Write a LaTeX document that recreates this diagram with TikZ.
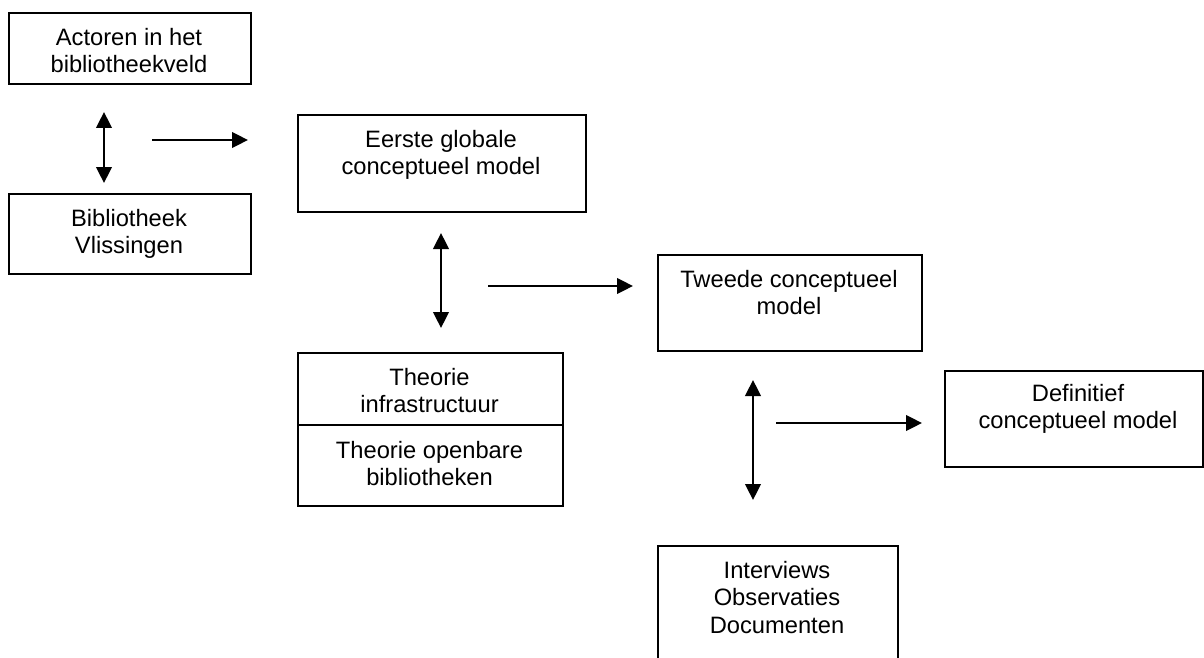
\documentclass[tikz,border=0pt]{standalone}
\usepackage{fontspec}
\setmainfont{Liberation Sans}
\usetikzlibrary{arrows.meta,calc}
\begin{document}
\begin{tikzpicture}[x=1pt,y=-1pt,
  box/.style={draw, line width=1.7pt, inner sep=0pt, anchor=north west},
  txt/.style={font=\fontsize{23.7}{27.5}\selectfont, align=center, inner sep=0pt, anchor=north},
  dbl/.style={{Triangle[length=16pt,width=15.5pt]}-{Triangle[length=16pt,width=15.5pt]}, line width=2.5pt},
  sgl/.style={-{Triangle[length=16pt,width=15.5pt]}, line width=2.5pt}]
\useasboundingbox (0,0) rectangle (1204,658);
\clip (0,0) rectangle (1204,658);
\fill[white] (0,0) rectangle (1204,658);

% boxes
\node[box, minimum width=242pt, minimum height=71pt] (b1) at (8,12) {};
\node[box, minimum width=242pt, minimum height=80pt] (b2) at (8,193) {};
\node[box, minimum width=288pt, minimum height=97pt] (b3) at (297,114) {};
\node[box, minimum width=265pt, minimum height=72pt] (b4) at (297,352) {};
\node[box, minimum width=265pt, minimum height=81pt] (b5) at (297,424) {};
\node[box, minimum width=264pt, minimum height=96pt] (b6) at (657,254) {};
\node[box, minimum width=258pt, minimum height=96pt] (b7) at (944,370) {};
\node[box, minimum width=240pt, minimum height=140pt] (b8) at (657,545) {};

% texts
\node[txt] (t1) at (129,26) {\strut Actoren in het\\bibliotheekveld};
\node[txt] (t2) at (129,207) {\strut Bibliotheek\\Vlissingen};
\node[txt] (t3) at (441,128) {\strut Eerste globale\\conceptueel model};
\node[txt] (t4) at (429.5,366) {\strut Theorie\\infrastructuur};
\node[txt] (t5) at (429.5,439) {\strut Theorie openbare\\bibliotheken};
\node[txt] (t6) at (789,268) {\strut Tweede conceptueel\\model};
\node[txt] (t7) at (1078,382) {\strut Definitief\\conceptueel model};
\node[txt] (t8) at (777,559) {\strut Interviews\\Observaties\\Documenten};

% arrow end points
\coordinate (a1t) at (104,112); \coordinate (a1b) at (104,183);
\coordinate (h1s) at (152,140); \coordinate (h1e) at (248,140);
\coordinate (a2t) at (441,233); \coordinate (a2b) at (441,328);
\coordinate (h2s) at (488,286); \coordinate (h2e) at (633,286);
\coordinate (a3t) at (753,380); \coordinate (a3b) at (753,500);
\coordinate (h3s) at (776,423); \coordinate (h3e) at (922,423);

\draw[dbl] (a1t) -- (a1b);
\draw[sgl] (h1s) -- (h1e);
\draw[dbl] (a2t) -- (a2b);
\draw[sgl] (h2s) -- (h2e);
\draw[dbl] (a3t) -- (a3b);
\draw[sgl] (h3s) -- (h3e);
\end{tikzpicture}
\end{document}
